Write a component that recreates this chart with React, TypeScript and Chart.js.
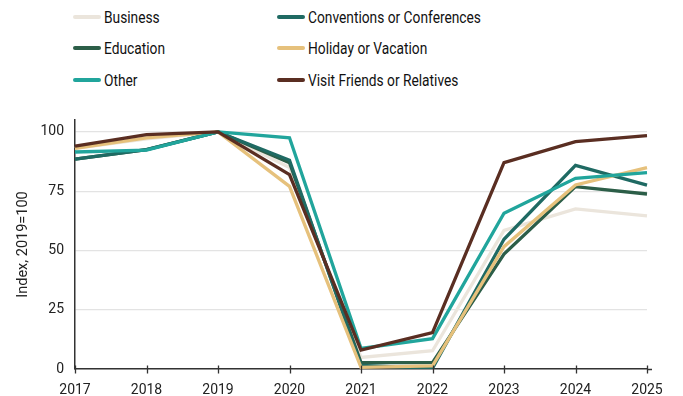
import React, { useEffect, useRef } from "react";
import { Chart, registerables } from "chart.js";

Chart.register(...registerables);

const years = ["2017", "2018", "2019", "2020", "2021", "2022", "2023", "2024", "2025"];
const business = [93, 97, 100, 85, 4.9, 7.7, 58.4, 67.5, 64.6];
const conventions = [88.5, 92.5, 100, 88, 1.5, 0.3, 54.7, 85.9, 77.5];
const education = [88.5, 92.5, 100, 87, 2.7, 2.7, 48.5, 76.9, 73.8];
const holiday = [93, 97.5, 100, 77, 0.7, 1.3, 51.6, 77.6, 84.9];
const other = [91.5, 92.3, 100, 97.5, 8.7, 12.8, 65.7, 80.4, 82.8];
const visit = [94, 98.8, 100, 82, 8, 15.3, 87, 95.9, 98.4];
const yTicks = [0, 25, 50, 75, 100];

const seriesNames = [
  "Business",
  "Conventions or Conferences",
  "Education",
  "Holiday or Vacation",
  "Other",
  "Visit Friends or Relatives",
];
const seriesColors = ["#ebe5dc", "#1f6a63", "#2c5e48", "#e6c17c", "#21a59c", "#5a2e22"];
const seriesData = [business, conventions, education, holiday, other, visit];
const seriesOrder = [5, 3, 4, 2, 1, 0];

const FONT = "Roboto, 'Noto Sans', sans-serif";

const crossTicks = {
  id: "crossTicks",
  afterDraw(chart: any) {
    const xs = chart.scales.x;
    const ctx = chart.ctx;
    const bottom = chart.chartArea.bottom;
    ctx.save();
    ctx.strokeStyle = "#333";
    ctx.lineWidth = 1.3;
    ctx.beginPath();
    for (let i = 0; i < years.length; i++) {
      const x = Math.round(xs.getPixelForValue(i)) + 0.5;
      ctx.moveTo(x, bottom - 3.5);
      ctx.lineTo(x, bottom + 4.5);
    }
    ctx.stroke();
    ctx.beginPath();
    ctx.lineWidth = 1.5;
    ctx.moveTo(chart.chartArea.right, bottom + 0.5);
    ctx.lineTo(chart.chartArea.right + 5, bottom + 0.5);
    ctx.stroke();
    ctx.restore();
  },
};

export default function App() {
  const ref = useRef<HTMLCanvasElement | null>(null);

  useEffect(() => {
    document.body.style.margin = "0";
    if (!ref.current) return;
    const chart = new Chart(ref.current, {
      type: "line",
      data: {
        labels: years,
        datasets: seriesNames.map((name, i) => ({
          label: name,
          data: seriesData[i],
          borderColor: seriesColors[i],
          backgroundColor: seriesColors[i],
          borderWidth: 3.3,
          pointRadius: 0,
          tension: 0,
          order: seriesOrder[i],
        })),
      },
      plugins: [crossTicks],
      options: {
        animation: false,
        responsive: false,
        maintainAspectRatio: false,
        layout: { padding: { top: 20, right: 36, left: 0, bottom: 0 } },
        plugins: { legend: { display: false }, tooltip: { enabled: false } },
        scales: {
          x: {
            type: "category",
            offset: false,
            grid: { display: false },
            border: { display: true, color: "#333", width: 1.5 },
            ticks: {
              color: "#222",
              font: { family: FONT, size: 14 },
              padding: 5,
              maxRotation: 0,
              autoSkip: false,
            },
            afterFit: (scale: any) => {
              scale.height = 27;
            },
          },
          y: {
            min: 0,
            max: 105,
            afterBuildTicks: (scale: any) => {
              scale.ticks = yTicks.map((v) => ({ value: v }));
            },
            grid: {
              color: "#e3e3e3",
              lineWidth: 1.2,
              drawTicks: false,
            },
            border: { display: true, color: "#333", width: 1.5 },
            ticks: {
              color: "#222",
              font: { family: FONT, size: 14 },
              padding: 11,
            },
            title: {
              display: true,
              text: "Index, 2019=100",
              color: "#222",
              font: { family: FONT, size: 14.5 },
              padding: { top: 15, bottom: 6 },
            },
            afterFit: (scale: any) => {
              scale.width = 75;
            },
          },
        },
      },
    });
    return () => chart.destroy();
  }, []);

  const legendCols = [
    [0, 2, 4],
    [1, 3, 5],
  ];
  const colLeft = [73, 277];
  const rowTop = [17, 48, 80];

  return (
    <div style={{ position: "relative", width: 683, height: 396, background: "#fff", fontFamily: FONT }}>
      {legendCols.map((col, ci) =>
        col.map((si, ri) => (
          <div
            key={si}
            style={{
              position: "absolute",
              left: colLeft[ci],
              top: rowTop[ri] - 11,
              height: 22,
              display: "flex",
              alignItems: "center",
              whiteSpace: "nowrap",
            }}
          >
            <span
              style={{
                display: "inline-block",
                width: 28,
                height: 3.5,
                borderRadius: 2,
                background: seriesColors[si],
                marginRight: 3,
              }}
            />
            <span
              style={{
                fontSize: 16,
                color: "#111",
                display: "inline-block",
                transform: "scaleX(0.86)",
                transformOrigin: "left center",
              }}
            >
              {seriesNames[si]}
            </span>
          </div>
        ))
      )}
      <canvas
        ref={ref}
        width={683}
        height={296}
        style={{ position: "absolute", left: 0, top: 100, width: 683, height: 296 }}
      />
    </div>
  );
}
